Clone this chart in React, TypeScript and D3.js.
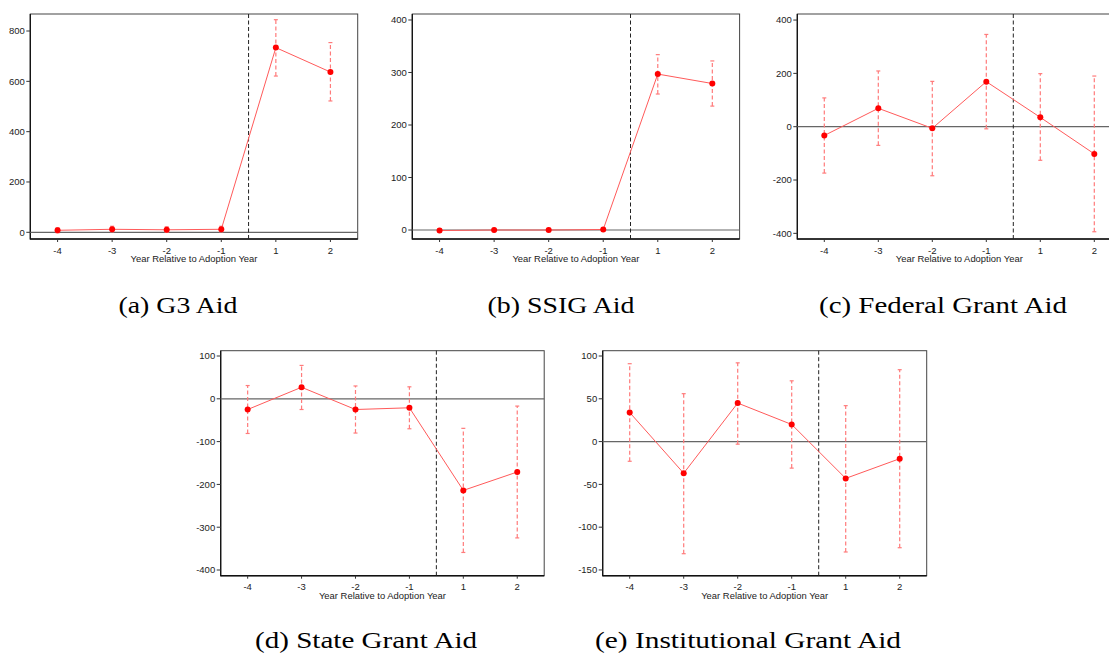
import React from 'react';
import * as d3 from 'd3';

// event-time categories (0 omitted, dashed line sits between -1 and 1)
const xLabels = ['-4', '-3', '-2', '-1', '1', '2'];

const g3Coef = [8, 12, 10, 12, 734, 637];
const g3Lo = [-2, 2, 0, 2, 621, 522];
const g3Hi = [18, 24, 22, 24, 845, 754];

const ssigCoef = [-1, 0, 0, 1, 297, 279];
const ssigLo = [-4, -3, -3, -2, 259, 236];
const ssigHi = [2, 3, 3, 4, 334, 322];

const fedCoef = [-33, 69, -6, 169, 35, -102];
const fedLo = [-174, -70, -184, -8, -126, -394];
const fedHi = [108, 209, 170, 346, 199, 190];

const stateCoef = [-25, 27, -25, -21, -214, -171];
const stateLo = [-81, -25, -80, -70, -359, -325];
const stateHi = [31, 78, 30, 28, -69, -17];

const instCoef = [34, -37, 45, 20, -43, -20];
const instLo = [-23, -131, -3, -31, -129, -124];
const instHi = [91, 56, 92, 71, 42, 84];

const g3Ticks = [0, 200, 400, 600, 800];
const ssigTicks = [0, 100, 200, 300, 400];
const fedTicks = [-400, -200, 0, 200, 400];
const stateTicks = [-400, -300, -200, -100, 0, 100];
const instTicks = [-150, -100, -50, 0, 50, 100];

const captions = [
  '(a) G3 Aid',
  '(b) SSIG Aid',
  '(c) Federal Grant Aid',
  '(d) State Grant Aid',
  '(e) Institutional Grant Aid',
];

const panels = [
  { coef: g3Coef, lo: g3Lo, hi: g3Hi, ticks: g3Ticks, yDom: [-26.6, 867.6], box: [30.3, 14, 327.4, 225], cap: [178, 313, 119] },
  { coef: ssigCoef, lo: ssigLo, hi: ssigHi, ticks: ssigTicks, yDom: [-17.1, 411.4], box: [412.3, 14, 327.3, 225], cap: [561, 313, 147] },
  { coef: fedCoef, lo: fedLo, hi: fedHi, ticks: fedTicks, yDom: [-421.2, 422.7], box: [797.3, 14, 324, 225], cap: [943, 313, 248] },
  { coef: stateCoef, lo: stateLo, hi: stateHi, ticks: stateTicks, yDom: [-413.3, 112.4], box: [220.7, 350.7, 323.5, 225], cap: [366, 648, 222] },
  { coef: instCoef, lo: instLo, hi: instHi, ticks: instTicks, yDom: [-156.7, 106.2], box: [602.7, 350.7, 324, 225], cap: [748, 648, 306] },
];

const sans = '"Liberation Sans", Arial, Helvetica, sans-serif';

const Panel = ({ p, caption }) => {
  const [x0, y0, w, h] = p.box;
  const x = d3.scalePoint().domain(xLabels).range([x0, x0 + w]).padding(0.5);
  const y = d3.scaleLinear().domain(p.yDom).range([y0 + h, y0]);
  const pts = xLabels.map((l, i) => ({ l, v: p.coef[i], lo: p.lo[i], hi: p.hi[i] }));
  const line = d3
    .line()
    .x((d) => x(d.l))
    .y((d) => y(d.v));
  const xEvent = (x('-1') + x('1')) / 2;
  const [cx, cy, cw] = p.cap;

  return (
    <g>
      {/* frame */}
      <rect x={x0} y={y0} width={w} height={h} fill="none" stroke="#444" strokeWidth={1} />
      <line x1={x0} x2={x0} y1={y0} y2={y0 + h + 0.5} stroke="#111" strokeWidth={1.3} />
      <line x1={x0} x2={x0 + w} y1={y0 + h} y2={y0 + h} stroke="#111" strokeWidth={1.5} />

      {/* y axis */}
      {p.ticks.map((t) => (
        <g key={t}>
          <line x1={x0 - 4} x2={x0} y1={y(t)} y2={y(t)} stroke="#333" strokeWidth={1} />
          <text x={x0 - 5.5} y={y(t)} dy="0.35em" textAnchor="end" fontSize={9.5} fill="#222" fontFamily={sans}>
            {t}
          </text>
        </g>
      ))}

      {/* x axis */}
      {xLabels.map((l) => (
        <g key={l}>
          <line x1={x(l)} x2={x(l)} y1={y0 + h} y2={y0 + h + 3} stroke="#333" strokeWidth={1} />
          <text x={x(l)} y={y0 + h + 14.5} textAnchor="middle" fontSize={9.5} fill="#222" fontFamily={sans}>
            {l}
          </text>
        </g>
      ))}
      <text
        x={x0 + w / 2}
        y={y0 + h + 23}
        textAnchor="middle"
        fontSize={9}
        fill="#222"
        fontFamily={sans}
        textLength={127}
        lengthAdjust="spacingAndGlyphs"
      >
        Year Relative to Adoption Year
      </text>

      {/* reference lines */}
      <line x1={x0} x2={x0 + w} y1={y(0)} y2={y(0)} stroke="#666" strokeWidth={1.2} />
      <line x1={xEvent} x2={xEvent} y1={y0} y2={y0 + h} stroke="#222" strokeWidth={1} strokeDasharray="4,2.5" />

      {/* confidence intervals */}
      {pts.map((d) => (
        <g key={d.l} stroke="#ff7b7b" strokeWidth={1.2}>
          <line x1={x(d.l)} x2={x(d.l)} y1={y(d.lo)} y2={y(d.hi)} strokeDasharray="4,2.5" />
          <line x1={x(d.l) - 2} x2={x(d.l) + 2} y1={y(d.lo)} y2={y(d.lo)} />
          <line x1={x(d.l) - 2} x2={x(d.l) + 2} y1={y(d.hi)} y2={y(d.hi)} />
        </g>
      ))}

      <path d={line(pts)} fill="none" stroke="#ff5a5a" strokeWidth={1} />
      {pts.map((d) => (
        <circle key={d.l} cx={x(d.l)} cy={y(d.v)} r={3} fill="#ff0000" />
      ))}

      <text
        x={cx}
        y={cy}
        textAnchor="middle"
        fontSize={24}
        fill="#000"
        fontFamily='"Liberation Serif", "DejaVu Serif", serif'
        textLength={cw}
        lengthAdjust="spacingAndGlyphs"
      >
        {caption}
      </text>
    </g>
  );
};

export default function App() {
  return (
    <svg
      width={1109}
      height={654}
      style={{ position: 'absolute', left: 0, top: 0, background: '#fff' }}
    >
      {panels.map((p, i) => (
        <Panel key={i} p={p} caption={captions[i]} />
      ))}
    </svg>
  );
}
